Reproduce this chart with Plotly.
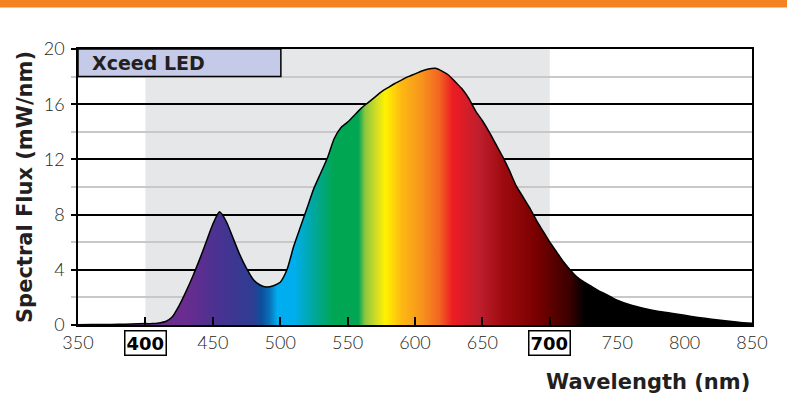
import plotly.graph_objects as go

# ---- data ----
wavelength = [350, 360, 370, 380, 390, 400, 405, 410, 415, 420, 425, 430, 435, 440, 445,
              450, 455, 460, 465, 470, 475, 480, 485, 490, 495, 500, 505, 510, 515, 520,
              525, 530, 535, 540, 545, 550, 555, 560, 565, 570, 575, 580, 585, 590, 595,
              600, 605, 610, 615, 620, 625, 630, 635, 640, 645, 650, 655, 660, 665, 670,
              675, 680, 685, 690, 695, 700, 705, 710, 715, 720, 725, 730, 735, 740, 745,
              750, 760, 770, 780, 790, 800, 810, 820, 830, 840, 850]
flux = [0.02, 0.03, 0.04, 0.05, 0.07, 0.10, 0.10, 0.15, 0.25, 0.6, 1.4, 2.4, 3.5, 4.7, 6.0,
        7.3, 8.2, 7.5, 6.3, 5.1, 4.1, 3.3, 2.9, 2.75, 2.85, 3.1, 4.0, 5.7, 7.1, 8.5,
        9.9, 11.0, 12.1, 13.5, 14.3, 14.7, 15.2, 15.7, 16.1, 16.5, 16.9, 17.2, 17.5, 17.75, 18.0,
        18.2, 18.4, 18.55, 18.6, 18.4, 18.1, 17.6, 17.1, 16.4, 15.5, 14.8, 14.0, 13.1, 12.2, 11.2,
        10.1, 9.3, 8.5, 7.6, 6.8, 6.0, 5.3, 4.6, 4.0, 3.5, 3.15, 2.85, 2.55, 2.3, 2.05,
        1.8, 1.45, 1.2, 1.0, 0.85, 0.7, 0.55, 0.42, 0.3, 0.2, 0.12]

x_ticks = [350, 400, 450, 500, 550, 600, 650, 700, 750, 800, 850]
x_tick_text = ["350", "", "450", "500", "550", "600", "650", "", "750", "800", "850"]
boxed_ticks = [400, 700]
y_ticks = [0, 4, 8, 12, 16, 20]
visible_band = [400, 700]
series_name = "Xceed LED"
x_title = "Wavelength (nm)"
y_title = "Spectral Flux (mW/nm)"

# spectrum colour stops (wavelength, colour)
spec_wl = [350, 430, 450, 467, 480, 486, 492, 498, 510, 525, 540, 558, 563, 572, 578,
           590, 605, 618, 628, 648, 665, 690, 715, 726, 850]
spec_col = ["#6a2c8f", "#6a2c8f", "#4e3191", "#3b3791", "#2e3d93", "#0c4f9c", "#0a6fb8",
            "#00aeef", "#00aeef", "#00a79d", "#00a651", "#00a651", "#8dc63f", "#d7df23",
            "#fff200", "#fdb813", "#f7941d", "#f26522", "#ed1c24", "#be1e2d", "#9e0b0f",
            "#7a0000", "#3a0000", "#000000", "#000000"]

FONT = "Lato"
BFONT = "DejaVu Sans"
TXT = "#231f20"
lo, hi = min(spec_wl), max(spec_wl)
colorscale = [[(w - lo) / (hi - lo), c] for w, c in zip(spec_wl, spec_col)]

fig = go.Figure()
fig.add_trace(go.Scatter(
    x=wavelength, y=flux, mode="lines", fill="tozeroy",
    fillgradient=dict(type="horizontal", colorscale=colorscale, start=lo, stop=hi),
    line=dict(color="black", width=1.5, shape="spline", smoothing=0.6),
    showlegend=False, hoverinfo="x+y",
))

# grey visible band
fig.add_shape(type="rect", xref="x", yref="y", x0=visible_band[0], x1=visible_band[1],
              y0=0, y1=20, fillcolor="#e6e7e8", line_width=0, layer="below")
# orange header bar
fig.add_shape(type="rect", xref="paper", yref="paper", x0=-0.2, x1=1.2,
              y0=1.150, y1=1.3, fillcolor="#f58220", line_width=0, layer="above")
# legend label box
fig.add_shape(type="rect", xref="x", yref="y", x0=350, x1=500.5, y0=18, y1=20,
              fillcolor="#c5cae8", line=dict(color="black", width=1.5), layer="above")
fig.add_annotation(x=359, y=19, xref="x", yref="y", text="<b>" + series_name + "</b>",
                   showarrow=False, xanchor="left", yanchor="middle",
                   font=dict(family=BFONT, size=19, color=TXT))

for t in boxed_ticks:
    fig.add_annotation(x=t, y=0, xref="x", yref="y", text="<b>%d</b>" % t, showarrow=False,
                       xanchor="center", yanchor="top", yshift=-5,
                       bordercolor="black", borderwidth=1.5, borderpad=1,
                       font=dict(family=BFONT, size=18, color="black"))

# x-axis title, right aligned under the axis
fig.add_annotation(x=1.0, y=-0.205, xref="paper", yref="paper", text="<b>" + x_title + "</b>",
                   showarrow=False, xanchor="right", yanchor="middle",
                   font=dict(family=BFONT, size=21, color=TXT))

fig.update_xaxes(range=[350, 850], tickmode="array", tickvals=x_ticks, ticktext=x_tick_text,
                 ticks="inside", ticklen=8, tickwidth=1.5, tickcolor="black",
                 showline=True, linecolor="black", linewidth=2, mirror=True,
                 showgrid=False, zeroline=False,
                 tickfont=dict(family=FONT, size=18, color=TXT, weight=300))
fig.update_yaxes(range=[0, 20], tickmode="array", tickvals=y_ticks,
                 ticks="outside", ticklen=5, tickwidth=1.5, tickcolor="black",
                 showline=True, linecolor="black", linewidth=1.5, mirror=True,
                 showgrid=True, gridcolor="black", gridwidth=1.5, zeroline=False,
                 minor=dict(dtick=2, showgrid=True, gridcolor="#c8c8c8", gridwidth=1.5,
                            ticks="outside", ticklen=5, tickcolor="#c8c8c8"),
                 ticklabelstandoff=3,
                 tickfont=dict(family=FONT, size=18, color=TXT, weight=300),
                 title=dict(text="<b>" + y_title + "</b>", standoff=5,
                            font=dict(family=BFONT, size=21, color=TXT)))

fig.update_layout(width=787, height=402, margin=dict(l=78, r=35, t=49, b=77),
                  paper_bgcolor="white", plot_bgcolor="white")
fig.write_html("out.html", config={"displayModeBar": False},
               post_script="document.body.style.margin='0';")
